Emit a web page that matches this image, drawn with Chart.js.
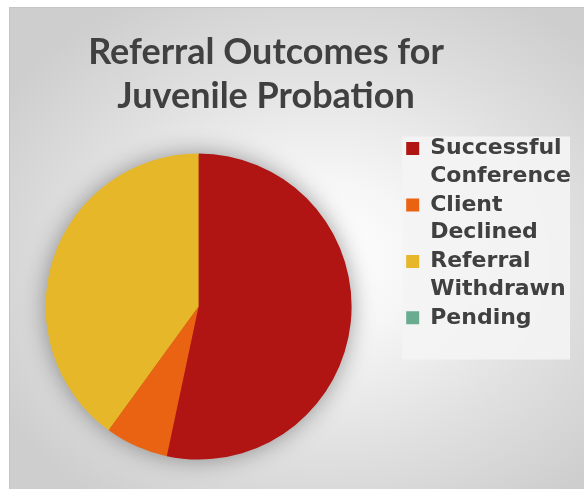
<!DOCTYPE html>
<html>
<head>
<meta charset="utf-8">
<script src="https://cdn.jsdelivr.net/npm/chart.js@4"></script>
<style>
    html, body { margin: 0; padding: 0; background: #ffffff; overflow: hidden; }
    body { width: 584px; height: 489px; position: relative; }
    .frame {
        position: absolute; left: 9px; top: 7px; width: 600px; height: 500px;
        border: 1px solid #c4c4c4;
        background: radial-gradient(ellipse farthest-corner at 52% 50%, #ffffff 0%, #f6f6f6 22%, #e0e0e0 55%, #cecece 85%);
    }
    #chart { position: absolute; left: -8px; top: 0; }
</style>
</head>
<body>
<div class="frame"></div>
<canvas id="chart" width="592" height="489"></canvas>
<script>
// === ДАНІ ===
const titleLines = ["Referral Outcomes for", "Juvenile Probation"];
const categories = ["Successful Conference", "Client Declined", "Referral Withdrawn", "Pending"];
const values = [8, 1, 6, 0];
const colors = ["#b01513", "#ea6312", "#e6b729", "#6aac90"];

const textColor = "#404040";


// === ЗАГОЛОВОК (малюємо самі, щоб центр був як в оригіналі) ===
const titlePlugin = {
    id: "titleAt",
    afterDraw(chart, args, opts) {
        const ctx = chart.ctx;
        ctx.save();
        ctx.fillStyle = textColor;
        ctx.font = "bold 36px Lato";
        ctx.textAlign = "center";
        ctx.textBaseline = "alphabetic";
        titleLines.forEach((line, i) => {
            ctx.fillText(line, opts.x, opts.y + i * opts.lineHeight);
        });
        ctx.restore();
    }
};


// === ФОН ЛЕГЕНДИ + ТІНЬ ПІД ПИРОГОМ ===
const decorPlugin = {
    id: "decor",
    beforeDraw(chart) {
        const lg = chart.legend;
        if (!lg || !lg.legendHitBoxes.length) return;
        const boxes = lg.legendHitBoxes;
        const last = boxes[boxes.length - 1];
        const ctx = chart.ctx;
        ctx.save();
        ctx.fillStyle = "rgba(244,244,244,0.9)";
        ctx.fillRect(lg.left - 3, lg.top, lg.right - 11 - (lg.left - 3), last.top + last.height + 25 - lg.top);
        ctx.restore();
    },
    beforeDatasetsDraw(chart) {
        const arc = chart.getDatasetMeta(0).data[0];
        if (!arc) return;
        const ctx = chart.ctx;
        ctx.save();
        ctx.shadowColor = "rgba(0,0,0,0.4)";
        ctx.shadowBlur = 24;
        ctx.fillStyle = colors[0];
        ctx.beginPath();
        ctx.arc(arc.x, arc.y, arc.outerRadius - 1, 0, Math.PI * 2);
        ctx.fill();
        ctx.restore();
    }
};


// === ГРАФІК ===
new Chart(document.getElementById("chart"), {
    type: "pie",
    data: {
        labels: categories,
        datasets: [{
            data: values,
            backgroundColor: colors,
            borderWidth: 0,
            radius: 153
        }]
    },
    options: {
        responsive: false,
        animation: false,
        layout: { padding: { left: 0, right: 3, top: 136.5, bottom: 12.5 } },
        plugins: {
            title: { display: false },
            tooltip: { enabled: false },
            titleAt: { x: 274, y: 64, lineHeight: 44 },
            legend: {
                position: "right",
                align: "start",
                labels: {
                    color: textColor,
                    font: { family: "DejaVu Sans", weight: "bold", size: 22, lineHeight: 1.26 },
                    boxWidth: 13,
                    boxHeight: 13,
                    padding: 1,
                    generateLabels(chart) {
                        const items = Chart.overrides.pie.plugins.legend.labels.generateLabels(chart);
                        return items.map(it => ({ ...it, text: it.text.split(" "), lineWidth: 0 }));
                    }
                }
            }
        }
    },
    plugins: [decorPlugin, titlePlugin]
});
</script>
</body>
</html>
